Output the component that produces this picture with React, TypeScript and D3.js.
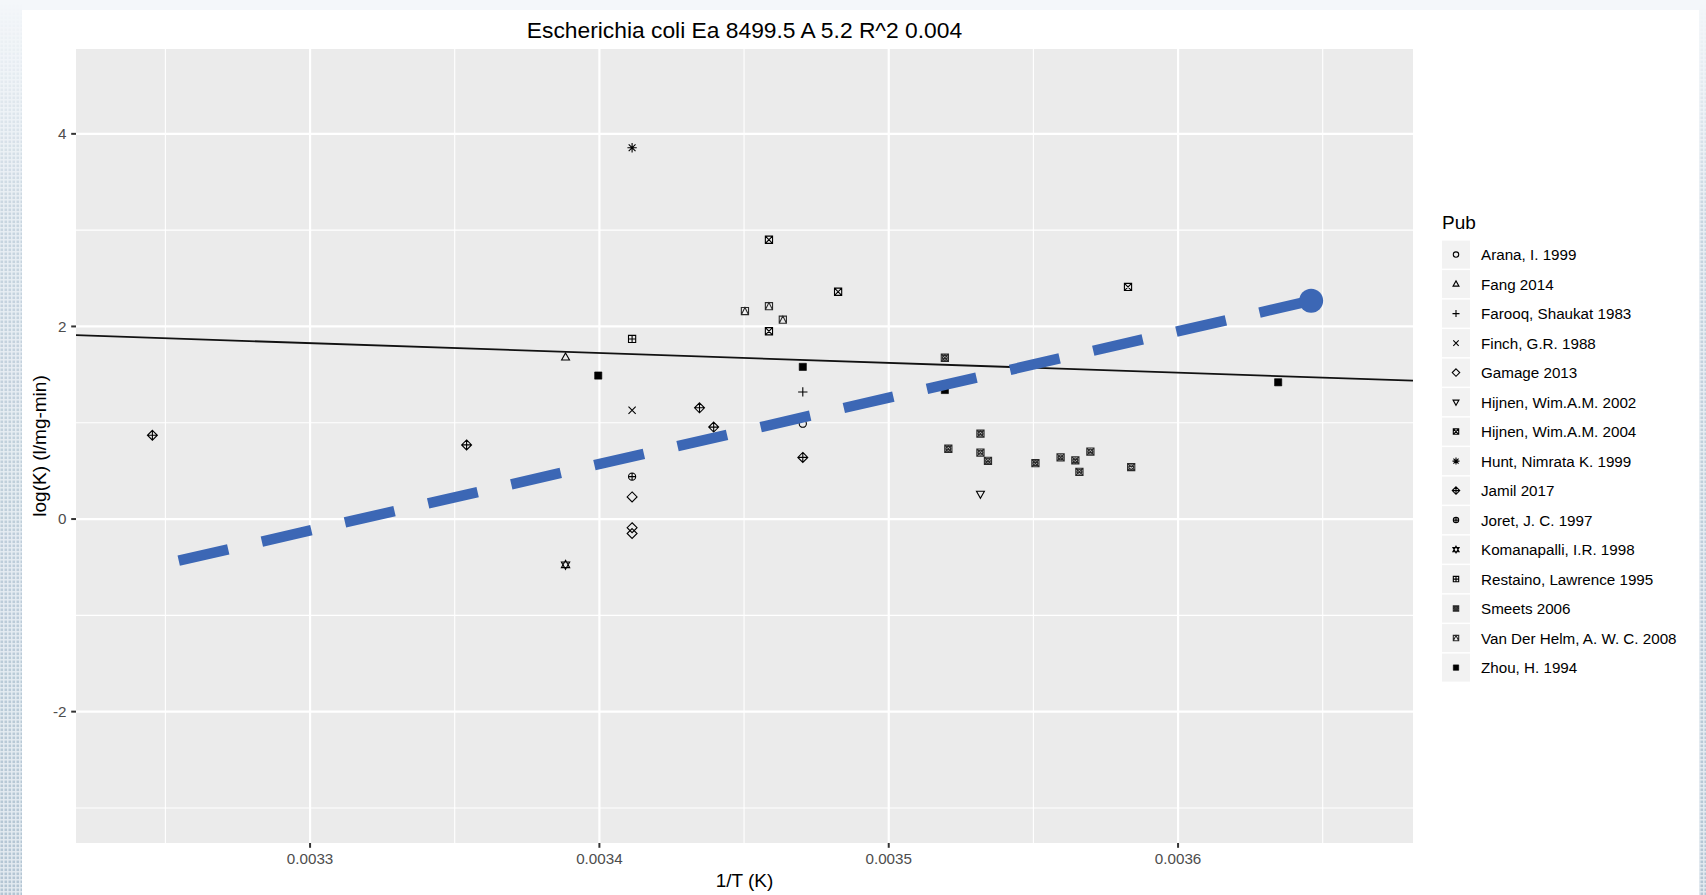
import React from 'react';
import * as d3 from 'd3';

// publications in legend order
const pubs = [
  'Arana, I. 1999',
  'Fang 2014',
  'Farooq, Shaukat 1983',
  'Finch, G.R. 1988',
  'Gamage 2013',
  'Hijnen, Wim.A.M. 2002',
  'Hijnen, Wim.A.M. 2004',
  'Hunt, Nimrata K. 1999',
  'Jamil 2017',
  'Joret, J. C. 1997',
  'Komanapalli, I.R. 1998',
  'Restaino, Lawrence 1995',
  'Smeets 2006',
  'Van Der Helm, A. W. C. 2008',
  'Zhou, H. 1994',
];

// each point: publication, 1/T, log(K)
const pointPub = [
  'Jamil 2017', 'Jamil 2017', 'Komanapalli, I.R. 1998', 'Fang 2014', 'Zhou, H. 1994',
  'Hunt, Nimrata K. 1999', 'Restaino, Lawrence 1995', 'Finch, G.R. 1988', 'Joret, J. C. 1997', 'Gamage 2013',
  'Gamage 2013', 'Gamage 2013', 'Jamil 2017', 'Jamil 2017', 'Van Der Helm, A. W. C. 2008',
  'Hijnen, Wim.A.M. 2004', 'Van Der Helm, A. W. C. 2008', 'Hijnen, Wim.A.M. 2004', 'Van Der Helm, A. W. C. 2008', 'Hijnen, Wim.A.M. 2004',
  'Zhou, H. 1994', 'Farooq, Shaukat 1983', 'Arana, I. 1999', 'Jamil 2017', 'Smeets 2006',
  'Zhou, H. 1994', 'Smeets 2006', 'Smeets 2006', 'Smeets 2006', 'Smeets 2006',
  'Hijnen, Wim.A.M. 2002', 'Smeets 2006', 'Smeets 2006', 'Smeets 2006', 'Smeets 2006',
  'Smeets 2006', 'Hijnen, Wim.A.M. 2004', 'Smeets 2006', 'Zhou, H. 1994',
];
const pointX = [
  0.0032455, 0.0033541, 0.0033883, 0.0033883, 0.0033996,
  0.0034113, 0.0034113, 0.0034113, 0.0034113, 0.0034113,
  0.0034113, 0.0034113, 0.0034346, 0.0034395, 0.0034503,
  0.0034586, 0.0034586, 0.0034586, 0.0034634, 0.0034825,
  0.0034703, 0.0034703, 0.0034703, 0.0034703, 0.0035194,
  0.0035194, 0.0035206, 0.0035317, 0.0035317, 0.0035343,
  0.0035317, 0.0035507, 0.0035594, 0.0035645, 0.0035659,
  0.0035697, 0.0035827, 0.0035838, 0.0036346,
];
const pointY = [
  0.87, 0.77, -0.475, 1.68, 1.49,
  3.855, 1.87, 1.13, 0.44, 0.23,
  -0.09, -0.15, 1.155, 0.955, 2.16,
  2.90, 2.21, 1.95, 2.07, 2.36,
  1.58, 1.32, 0.99, 0.64, 1.675,
  1.34, 0.73, 0.886, 0.69, 0.605,
  0.26, 0.58, 0.64, 0.61, 0.49,
  0.70, 2.41, 0.54, 1.42,
];

// fitted line from the title: log(K) = A - Ea/R * (1/T)
const Ea = 8499.5;
const A = 5.2;
const R = 8.314;

// hand drawn trend arrow (start, end) in data units
const arrowX = [0.0032546, 0.003646];
const arrowY = [-0.432, 2.267];

const xDomain = [0.0032191, 0.0036812];
const yDomain = [-3.364, 4.881];
const xTicks = [0.0033, 0.0034, 0.0035, 0.0036];
const xTickLabels = ['0.0033', '0.0034', '0.0035', '0.0036'];
const xMinor = [0.00325, 0.00335, 0.00345, 0.00355, 0.00365];
const yTicks = [-2, 0, 2, 4];
const yTickLabels = ['-2', '0', '2', '4'];
const yMinor = [-3, -1, 1, 3];

const title = 'Escherichia coli Ea 8499.5 A 5.2 R^2 0.004';

// ggplot shape codes 1..15 in legend order
const shapeCodes = [1, 2, 3, 4, 5, 6, 7, 8, 9, 10, 11, 12, 13, 14, 15];

const W = 1706;
const H = 895;
const panel = { left: 76, top: 49, right: 1413, bottom: 843 };
const FONT = '"Liberation Sans", Arial, Helvetica, sans-serif';

function shapePath(code: number, s: number): string {
  const sq = `M${-s},${-s}H${s}V${s}H${-s}Z`;
  const circ = `M${-s},0A${s},${s} 0 1,0 ${s},0A${s},${s} 0 1,0 ${-s},0Z`;
  const c2 = s * 0.65;
  const innerCirc = `M${-c2},0A${c2},${c2} 0 1,0 ${c2},0A${c2},${c2} 0 1,0 ${-c2},0Z`;
  const d = s * 1.38;
  const diam = `M0,${-d}L${d},0L0,${d}L${-d},0Z`;
  const plus = (k: number) => `M${-k},0H${k}M0,${-k}V${k}`;
  const cross = (k: number) => `M${-k},${-k}L${k},${k}M${-k},${k}L${k},${-k}`;
  const triUp = (k: number) => `M0,${-k * 1.2}L${k * 1.1},${k * 0.75}L${-k * 1.1},${k * 0.75}Z`;
  const triDown = (k: number) => `M0,${k * 1.2}L${k * 1.1},${-k * 0.75}L${-k * 1.1},${-k * 0.75}Z`;
  switch (code) {
    case 1: return circ;
    case 2: return triUp(s);
    case 3: return plus(s * 1.3);
    case 4: return cross(s);
    case 5: return diam;
    case 6: return triDown(s);
    case 7: return sq + cross(s);
    case 8: return plus(s * 1.3) + cross(s * 0.95);
    case 9: return diam + plus(d);
    case 10: return circ + plus(s);
    case 11: return triUp(s * 1.05) + triDown(s * 1.05);
    case 12: return sq + plus(s);
    case 13: return sq + cross(s) + innerCirc;
    case 14: return sq + `M${-s},${s}L0,${-s}L${s},${s}`;
    case 15: return sq;
    default: return circ;
  }
}

function Marker({ code, cx, cy, s }: { code: number; cx: number; cy: number; s: number }) {
  const filled = code === 15;
  return (
    <path
      d={shapePath(code, s)}
      transform={`translate(${cx},${cy})`}
      fill={filled ? '#000' : 'none'}
      stroke={code === 13 || code === 14 ? '#2a2a2a' : '#000'}
      strokeWidth={filled ? 0.6 : 1.1}
    />
  );
}

export default function App() {
  const x = d3.scaleLinear().domain(xDomain).range([panel.left, panel.right]);
  const y = d3.scaleLinear().domain(yDomain).range([panel.bottom, panel.top]);

  const slope = -Ea / R;
  const fitLine = d3.line<number>()
    .x(v => x(v))
    .y(v => y(A + slope * v));

  const ax0 = x(arrowX[0]);
  const ay0 = y(arrowY[0]);
  const ax1 = x(arrowX[1]);
  const ay1 = y(arrowY[1]);

  const legendX = 1442;
  const legendTop = 240.6;
  const rowH = 29.5;

  return (
    <svg
      width={W}
      height={H}
      style={{ position: 'fixed', left: 0, top: 0, display: 'block' }}
      fontFamily={FONT}
    >
      <defs>
        <pattern id="dots" width="4" height="4" patternUnits="userSpaceOnUse">
          <rect width="4" height="4" fill="#e4ebf1" />
          <rect x="0.5" y="0.5" width="2.6" height="2.6" fill="#b3c5d3" />
        </pattern>
        <linearGradient id="fade" x1="0" y1="0" x2="0" y2="1">
          <stop offset="0" stopColor="#fff" stopOpacity="0" />
          <stop offset="0.25" stopColor="#fff" stopOpacity="0.7" />
          <stop offset="1" stopColor="#fff" stopOpacity="1" />
        </linearGradient>
        <mask id="fadeMask">
          <rect x="0" y="0" width={W} height={H} fill="url(#fade)" />
        </mask>
        <clipPath id="panelClip">
          <rect x={panel.left} y={panel.top} width={panel.right - panel.left} height={panel.bottom - panel.top} />
        </clipPath>
      </defs>

      {/* slide background */}
      <rect x={0} y={0} width={W} height={H} fill="#f4f7fa" />
      <g mask="url(#fadeMask)">
        <rect x={0} y={0} width={22} height={H} fill="url(#dots)" />
        <rect x={1699} y={0} width={7} height={H} fill="url(#dots)" />
      </g>
      <rect x={22} y={10} width={1677} height={H - 10} fill="#fff" />

      {/* panel */}
      <rect
        x={panel.left}
        y={panel.top}
        width={panel.right - panel.left}
        height={panel.bottom - panel.top}
        fill="#ebebeb"
      />
      <g stroke="#fff">
        {xMinor.map(v => (
          <line key={`xm${v}`} x1={x(v)} x2={x(v)} y1={panel.top} y2={panel.bottom} strokeWidth={1.1} />
        ))}
        {yMinor.map(v => (
          <line key={`ym${v}`} x1={panel.left} x2={panel.right} y1={y(v)} y2={y(v)} strokeWidth={1.1} />
        ))}
        {xTicks.map(v => (
          <line key={`xg${v}`} x1={x(v)} x2={x(v)} y1={panel.top} y2={panel.bottom} strokeWidth={2.2} />
        ))}
        {yTicks.map(v => (
          <line key={`yg${v}`} x1={panel.left} x2={panel.right} y1={y(v)} y2={y(v)} strokeWidth={2.2} />
        ))}
      </g>

      <g clipPath="url(#panelClip)">
        {pointPub.map((p, i) => (
          <Marker
            key={i}
            code={shapeCodes[pubs.indexOf(p)]}
            cx={x(pointX[i])}
            cy={y(pointY[i])}
            s={3.6}
          />
        ))}
        <path d={fitLine(xDomain) || ''} fill="none" stroke="#111" strokeWidth={1.8} />
      </g>

      {/* axes */}
      <g stroke="#333" strokeWidth={2}>
        {xTicks.map(v => (
          <line key={`xt${v}`} x1={x(v)} x2={x(v)} y1={panel.bottom} y2={panel.bottom + 4.8} />
        ))}
        {yTicks.map(v => (
          <line key={`yt${v}`} x1={panel.left - 4.8} x2={panel.left} y1={y(v)} y2={y(v)} />
        ))}
      </g>
      <g fill="#4d4d4d" fontSize={15.2}>
        {xTicks.map((v, i) => (
          <text key={`xl${v}`} x={x(v)} y={864} textAnchor="middle">{xTickLabels[i]}</text>
        ))}
        {yTicks.map((v, i) => (
          <text key={`yl${v}`} x={66.5} y={y(v) + 5.4} textAnchor="end">{yTickLabels[i]}</text>
        ))}
      </g>
      <text x={(panel.left + panel.right) / 2} y={886.5} textAnchor="middle" fontSize={19} fill="#000">
        1/T (K)
      </text>
      <text
        transform={`translate(46,${(panel.top + panel.bottom) / 2}) rotate(-90)`}
        textAnchor="middle"
        fontSize={19}
        fill="#000"
      >
        log(K) (l/mg-min)
      </text>
      <text x={(panel.left + panel.right) / 2} y={37.5} textAnchor="middle" fontSize={22.8} fill="#000">
        {title}
      </text>

      {/* legend */}
      <text x={legendX} y={229} fontSize={19} fill="#000">Pub</text>
      {pubs.map((p, i) => {
        const top = legendTop + i * rowH;
        return (
          <g key={p}>
            <rect x={legendX} y={top} width={28} height={28} fill="#f2f2f2" />
            <Marker code={shapeCodes[i]} cx={legendX + 14} cy={top + 14} s={2.7} />
            <text x={1481} y={top + 14 + 5.4} fontSize={15.2} fill="#000">{p}</text>
          </g>
        );
      })}

      {/* hand drawn trend arrow on top */}
      <line
        x1={ax0}
        y1={ay0}
        x2={ax1}
        y2={ay1}
        stroke="#3c67b5"
        strokeWidth={10.5}
        strokeDasharray="50.8 34.5"
        strokeLinecap="butt"
      />
      <circle cx={ax1} cy={ay1} r={12} fill="#3c67b5" />
    </svg>
  );
}
